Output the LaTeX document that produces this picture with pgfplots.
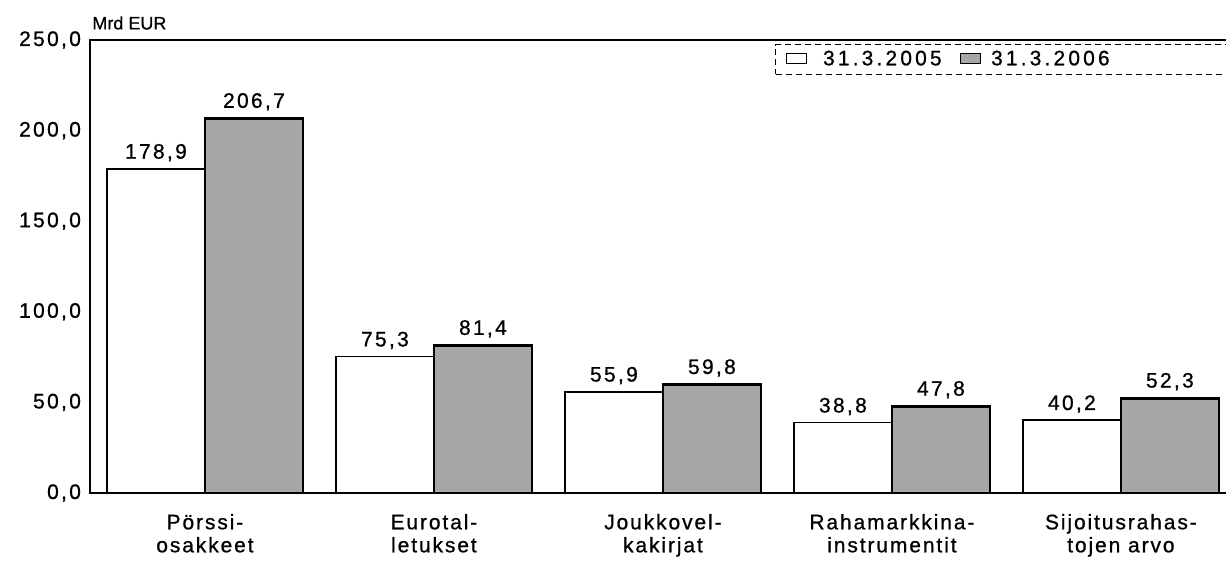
\documentclass[border=0pt]{standalone}
\usepackage{fontspec}
\setmainfont{Liberation Sans}
\newfontfamily\numfont[LetterSpace=11, FakeBold=0.8]{Liberation Sans}
\newfontfamily\legfont[LetterSpace=15, FakeBold=0.8]{Liberation Sans}
\newfontfamily\lblfont[LetterSpace=9, FakeBold=0.8]{Liberation Sans}
\newfontfamily\unitfont[FakeBold=0.6]{Liberation Sans}
\usepackage{pgfplots}
\pgfplotsset{compat=1.18}
\begin{document}
\begin{tikzpicture}
\begin{axis}[
  scale only axis, width=575pt, height=226.5pt,
  ymin=0, ymax=250, xmin=-0.502, xmax=4.52,
  ybar=0pt, bar width=49pt,
  ytick={0,50,...,250},
  xtick={0,1,2,3,4},
  xticklabels={{Pörssi-\\osakkeet},{Eurotal-\\letukset},{Joukkovel-\\kakirjat},{Rahamarkkina-\\instrumentit},{Sijoitusrahas-\\tojen arvo}},
  major tick length=0pt,
  axis line style={line width=1pt},
  yticklabel style={/pgf/number format/.cd, fixed, fixed zerofill, precision=1, use comma, assume math mode=true, /tikz/.cd, font=\fontsize{10.5}{11}\numfont, xshift=-1pt},
  xticklabel style={align=center, font=\fontsize{10.5}{11.5}\lblfont, yshift=-7pt},
  nodes near coords,
  nodes near coords style={/pgf/number format/.cd, fixed, fixed zerofill, precision=1, use comma, assume math mode=true, /tikz/.cd, font=\fontsize{10.5}{11}\numfont, black},
  legend style={at={(0.5957,0.991)}, anchor=north west, draw=black, densely dashed, line width=0.6pt, font=\fontsize{10.5}{11}\legfont, inner xsep=5pt, inner ysep=1pt, /tikz/every even column/.append style={column sep=7pt}},
  legend columns=2,
  legend image code/.code={\draw[#1, solid, line width=0.7pt] (0pt,-2pt) rectangle (10pt,3pt);},
]
\addplot[draw=black, fill=white, line width=0.8pt] coordinates {(0,178.9) (1,75.3) (2,55.9) (3,38.8) (4,40.2)};
\addplot[draw=black, fill=gray!70, line width=1.3pt] coordinates {(0,206.7) (1,81.4) (2,59.8) (3,47.8) (4,52.3)};
\legend{\kern6pt 31.3.2005,\kern3pt 31.3.2006\kern60pt}
\coordinate (bl) at (rel axis cs:0,0);
\coordinate (tl) at (rel axis cs:0,1);
\end{axis}
\node[anchor=south west, inner sep=0pt, font=\fontsize{9}{10}\unitfont] at ([xshift=1pt,yshift=5pt]tl) {Mrd EUR};
\pgfresetboundingbox
\path ([shift={(-45pt,-36.5pt)}]bl) rectangle ([shift={(568pt,246.5pt)}]bl);
\end{tikzpicture}
\end{document}
